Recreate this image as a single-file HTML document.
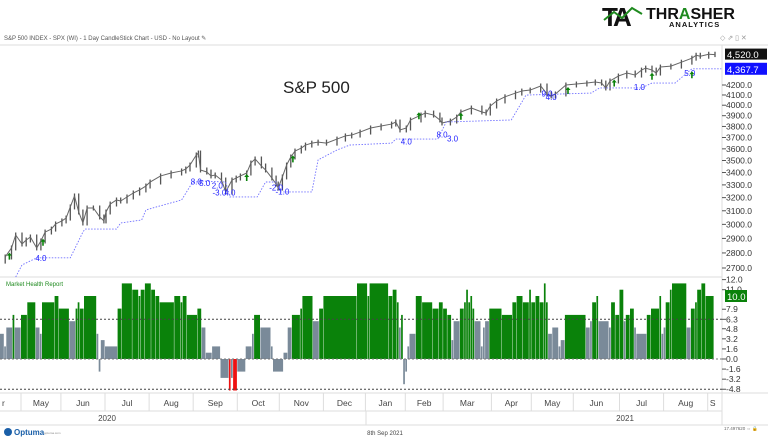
<!DOCTYPE html>
<html><head><meta charset="utf-8"><style>
body{margin:0;background:#fff;}
svg{display:block;font-family:"Liberation Sans",sans-serif;}
</style></head><body>
<svg id="chart" width="768" height="439" viewBox="0 0 768 439">
<g>
<text x="602" y="26" font-size="26" font-weight="bold" fill="#111" letter-spacing="-3">TA</text>
<polyline points="604,20 614,12 622,18 632,8 642,14" fill="none" stroke="#1f8a1f" stroke-width="2"/>
<text x="646" y="19" font-size="16" font-weight="bold" fill="#111">THR<tspan fill="#1f8a1f">A</tspan>SHER</text>
<text x="669" y="27" font-size="7.5" font-weight="bold" fill="#111" letter-spacing="1">ANALYTICS</text>
</g>
<text x="4" y="40" font-size="6" fill="#555">S&amp;P 500 INDEX - SPX (WI) - 1 Day CandleStick Chart - USD - No Layout ✎</text>
<text x="720" y="40" font-size="7" fill="#999">◇ ⇗ ▯ ✕</text>
<line x1="0" y1="45" x2="768" y2="45" stroke="#ddd"/>
<line x1="722" y1="45" x2="722" y2="425" stroke="#ddd"/>
<line x1="0" y1="277" x2="722" y2="277" stroke="#ddd"/>
<line x1="0" y1="393" x2="768" y2="393" stroke="#ddd"/>
<line x1="0" y1="411" x2="722" y2="411" stroke="#ddd"/>
<line x1="0" y1="425" x2="768" y2="425" stroke="#ddd"/>
<text x="283" y="93" font-size="17" fill="#222">S&amp;P 500</text>
<text x="6" y="286" font-size="6" fill="#1f8a1f">Market Health Report</text>
<g id="price"></g><g id="stop"></g><g id="health"></g><g id="axes"></g><g id="annot"></g>
<text x="107" y="421" font-size="8" fill="#444" text-anchor="middle">2020</text>
<line x1="366" y1="411" x2="366" y2="425" stroke="#ddd"/>
<text x="625" y="421" font-size="8" fill="#444" text-anchor="middle">2021</text>
<g><circle cx="8" cy="432" r="4" fill="#1a5fa8"/><text x="14" y="435" font-size="8" fill="#1a5fa8" font-weight="bold">Optuma</text><text x="44" y="434" font-size="3" fill="#888">optuma.com</text></g>
<text x="385" y="435" font-size="6" fill="#444" text-anchor="middle">8th Sep 2021</text>
<text x="724" y="430" font-size="4.5" fill="#666">17.497620 ⇔ 🔒</text>
</svg>
<script>
const priceDays=[2,5,7,10,12,14,17,19,21,24,26,29,31,33,35,37,39,41,44,47,49,50,52,55,57,60,63,66,69,71,76,81,86,88,90,93,94,95,98,100,102,105,107,110,112,114,117,119,121,124,126,129,131,132,134,136,138,140,143,145,148,151,155,160,164,167,171,176,181,186,188,190,193,195,200,202,206,209,210,214,217,219,224,229,231,233,236,240,245,248,252,257,260,262,264,269,274,279,283,286,288,290,294,298,302,305,307,310,312,314,319,324,329,331,333,337,340];
const priceCloses=[2773,2834,2924,2861,2889,2910,2834,2882,2945,2966,3003,3025,3046,3129,3213,3091,3010,3121,3121,3054,3025,3091,3151,3182,3174,3205,3236,3260,3291,3323,3372,3396,3413,3429,3462,3547,3564,3421,3404,3372,3380,3339,3244,3339,3355,3372,3396,3479,3513,3454,3421,3355,3307,3275,3364,3462,3530,3581,3607,3633,3650,3659,3650,3686,3714,3722,3749,3786,3804,3822,3841,3768,3786,3860,3906,3925,3906,3860,3832,3850,3887,3935,3973,3935,3925,3992,4041,4082,4119,4139,4149,4190,4110,4090,4110,4200,4210,4220,4231,4220,4170,4241,4292,4323,4302,4354,4375,4354,4323,4386,4396,4438,4481,4513,4502,4524,4520];
const stopDays=[7,10,17,33,36,39,40,55,57,67,69,74,86,91,95,107,109,122,126,131,133,148,151,160,166,186,188,208,212,243,250,281,285,305,310,321,329,343];
const stopPrices=[2642,2720,2767,2767,2854,2945,2966,2966,3010,3032,3106,3129,3182,3315,3331,3323,3205,3205,3323,3323,3244,3244,3505,3590,3633,3650,3686,3686,3841,3860,4099,4119,4170,4170,4220,4220,4367.7,4367.7];
const healthRunEnd=[2,3,6,7,10,13,17,19,20,26,28,33,36,37,38,40,46,47,48,50,56,58,63,66,67,69,72,74,76,83,86,87,89,94,96,98,101,105,109,110,111,113,117,120,121,124,129,130,135,137,139,143,144,149,152,
154,170,175,176,185,187,189,190,191,192,193,194,195,198,201,206,209,211,213,215,216,219,221,222,223,224,225,226,229,230,231,233,239,244,246,249,252,253,255,257,259,260,261,263,266,267,269,279,281,282,284,285,290,291,293,295,
297,298,300,302,303,308,310,314,315,316,317,319,320,327,329,331,332,334,336,340];
const healthValues=[4,2,5,7,5,7,9,5,4,9,10,8,6,8,9,8,10,4,-2,3,2,8,12,11,10,11,12,11,10,9,10,9,10,7,8,5,1,2,-3,-5,-3,-5,-2,2,4,7,5,2,-2,1,5,7,8,10,6,
8,10,12,10,12,10,11,9,5,7,-4,-2,2,4,10,9,8,9,8,7,3,6,8,9,11,9,10,8,6,2,5,6,8,7,9,10,9,11,9,10,9,12,9,4,5,2,3,7,5,6,9,10,6,5,9,7,
11,6,7,8,5,4,7,8,10,4,5,9,11,12,5,8,9,11,12,10];
const priceTicks=[2700,2800,2900,3000,3100,3200,3300,3400,3500,3600,3700,3800,3900,4000,4100,4200];
const healthTicks=[-4.8,-3.2,-1.6,0.0,1.6,3.2,4.8,6.3,7.9,11.0,12.6];
const healthTickLabels=["-4.8","-3.2","-1.6","0.0","1.6","3.2","4.8","6.3","7.9","11.0","12.0"];
const months=["May","Jun","Jul","Aug","Sep","Oct","Nov","Dec","Jan","Feb","Mar","Apr","May","Jun","Jul","Aug","S"];
const monthStartDays=[10,29,50,71,92,113,133,154,174,193,211,234,253,273,295,316,337];
const lastPrice=4520.0, stopLevel=4367.7, lastHealth=10.0;
const annotations=[["4.0",19,2745],["8.0",93,3305],["5.0",97,3290],["2.0",103,3270],["-3.0",104,3215],["4.0",109,3215],["-2.0",131,3255],["-1.0",134,3225],["4.0",193,3640],["8.0",210,3700],["3.0",215,3665],["9.0",260,4085],["4.0",262,4050],["1.0",304,4150],["5.0",328,4290]];
const arrowDays=[4,20,117,139,199,219,270,292,310,329];
const arrowPrices=[2775,2870,3355,3510,3895,3890,4140,4215,4285,4300];

const NS="http://www.w3.org/2000/svg";
const xDay=d=>d*2.1+1;
const yPrice=p=>3540.6-414.2*Math.log(p);
const yHealth=v=>359-v*6.3;
function mk(tag,attrs,parent){const e=document.createElementNS(NS,tag);for(const k in attrs)e.setAttribute(k,attrs[k]);parent.appendChild(e);return e;}
const gP=document.getElementById('price'),gS=document.getElementById('stop'),gH=document.getElementById('health'),gA=document.getElementById('axes'),gN=document.getElementById('annot');
// candles
for(let i=0;i<priceCloses.length;i++){
  const prev=i?priceCloses[i-1]:priceCloses[i]*0.99;
  const hi=Math.max(prev,priceCloses[i])*1.006, lo=Math.min(prev,priceCloses[i])*0.994;
  const x=xDay(priceDays[i]);
  const w=mk('line',{x1:x,x2:x,y1:yPrice(hi),y2:yPrice(lo),stroke:'#555','stroke-width':1.3},gP);
  
  
  if(i){const s=mk('line',{x1:xDay(priceDays[i-1]),x2:x,y1:yPrice(prev),y2:yPrice(priceCloses[i]),stroke:'#666','stroke-width':1},gP);
  
  }
}
// stop line
const sp=mk('polyline',{points:stopDays.map((d,i)=>xDay(d)+','+yPrice(stopPrices[i])).join(' '),fill:'none',stroke:'#7070ff','stroke-width':0.9,'stroke-dasharray':'1.5,1.5'},gS);


// health bars
let start=0;
for(let i=0;i<healthValues.length;i++){
  const v=healthValues[i];
  const col=v<=-5?'#ee1111':(v>6.3?'#0a820a':'#7a8a99');
  const x0=xDay(start)-1,x1=xDay(healthRunEnd[i])-1;
  const y0=Math.min(yHealth(v),yHealth(0)),h=Math.abs(yHealth(v)-yHealth(0));
  const r=mk('rect',{x:x0,y:y0,width:Math.max(x1-x0-0.4,0.8),height:Math.max(h,0.5),fill:col},gH);
  
  
  start=healthRunEnd[i];
}
[[6.3,'#444'],[0,'#777'],[-4.8,'#444']].forEach(([v,c])=>{
  const l=mk('line',{x1:0,x2:722,y1:yHealth(v),y2:yHealth(v),stroke:c,'stroke-width':1,'stroke-dasharray':'2,2'},gH);
  
  
});
// price axis
priceTicks.forEach(p=>{
  const y=yPrice(p);
  mk('line',{x1:722,x2:726,y1:y,y2:y,stroke:'#555'},gA);
  const t=mk('text',{x:726,y:y+3,'font-size':8.5,fill:'#333'},gA);t.textContent=p.toFixed(1);
  
  
});
const b1=mk('rect',{x:725,y:yPrice(lastPrice)-6,width:42,height:11,fill:'#111'},gA);


const t1=mk('text',{x:727,y:yPrice(lastPrice)+3.5,'font-size':9.5,fill:'#fff'},gA);t1.textContent='4,520.0';


const b2=mk('rect',{x:725,y:yPrice(stopLevel)-6,width:42,height:12,fill:'#1010ff'},gA);


const t2=mk('text',{x:727,y:yPrice(stopLevel)+4,'font-size':9.5,fill:'#fff'},gA);t2.textContent='4,367.7';


// health axis
healthTicks.forEach((v,i)=>{
  const y=yHealth(v);
  mk('line',{x1:722,x2:726,y1:y,y2:y,stroke:'#555'},gA);
  const t=mk('text',{x:726,y:y+3,'font-size':8.5,fill:'#333'},gA);t.textContent=healthTickLabels[i];
  
  
});
const b3=mk('rect',{x:725,y:yHealth(lastHealth)-6,width:22,height:12,fill:'#0a820a'},gA);


const t3=mk('text',{x:727,y:yHealth(lastHealth)+4,'font-size':9.5,fill:'#fff'},gA);t3.textContent='10.0';


// months
months.forEach((m,i)=>{
  const xs=xDay(monthStartDays[i])-1;
  const xe=i+1<months.length?xDay(monthStartDays[i+1])-1:722;
  const l=mk('line',{x1:xs,x2:xs,y1:393,y2:411,stroke:'#ddd'},gA);
  
  
  const t=mk('text',{x:i+1<months.length?(xs+xe)/2:xs+5,y:406,'font-size':8.5,fill:'#444','text-anchor':'middle'},gA);t.textContent=m;
  
  
});
const t0=mk('text',{x:2,y:406,'font-size':8.5,fill:'#444'},gA);t0.textContent='r';


// annotations
annotations.forEach(a=>{
  const t=mk('text',{x:xDay(a[1]),y:yPrice(a[2]),'font-size':8,fill:'#2020ff','text-anchor':'middle'},gN);t.textContent=a[0];
  
  
});
arrowDays.forEach((d,i)=>{
  const x=xDay(d),y=yPrice(arrowPrices[i]);
  const a=mk('path',{d:`M${x},${y-4} L${x-2.5},${y-1} L${x-0.8},${y-1} L${x-0.8},${y+3} L${x+0.8},${y+3} L${x+0.8},${y-1} L${x+2.5},${y-1} Z`,fill:'#0a820a'},gN);
  
  
});
</script>
</body></html>
